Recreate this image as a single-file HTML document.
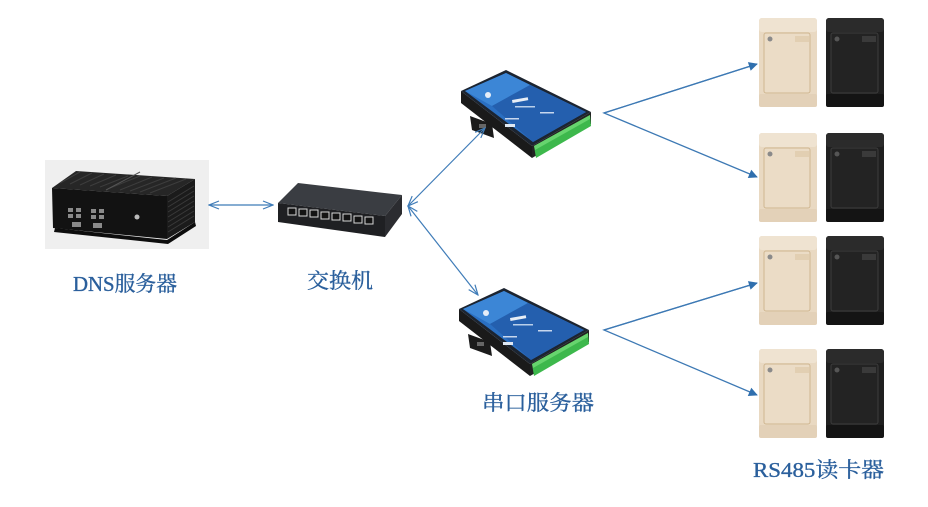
<!DOCTYPE html>
<html><head><meta charset="utf-8"><style>
html,body{margin:0;padding:0;background:#fff;}
svg{display:block;}
text{font-family:"Liberation Serif","Noto Serif CJK SC",serif;fill:#2a5f9c;stroke:#2a5f9c;stroke-width:0.35;font-size:21px;}
</style></head><body>
<svg width="928" height="507" viewBox="0 0 928 507" xmlns="http://www.w3.org/2000/svg">
<defs>
  <marker id="open" viewBox="0 0 12 10" refX="11" refY="5" markerWidth="12" markerHeight="10" markerUnits="userSpaceOnUse" orient="auto-start-reverse">
    <path d="M1,1 L11,5 L1,9" fill="none" stroke="#3f7cb8" stroke-width="1.2"/>
  </marker>
  <marker id="fill" viewBox="0 0 10 10" refX="9" refY="5" markerWidth="10" markerHeight="9" markerUnits="userSpaceOnUse" orient="auto">
    <path d="M0,0 L10,5 L0,10 Z" fill="#2f6fae"/>
  </marker>
  <g id="beige">
    <rect x="0" y="0" width="58" height="89" rx="3" fill="#e9d9c2"/>
    <rect x="0" y="0" width="58" height="14" rx="3" fill="#efe3d1"/>
    <rect x="0" y="76" width="58" height="13" rx="2" fill="#e3d1b8"/>
    <rect x="5" y="15" width="46" height="60" rx="2" fill="#ebdcc6" stroke="#cfb690" stroke-width="1"/>
    <circle cx="11" cy="21" r="2.5" fill="#8a8a8a"/>
    <rect x="36" y="18" width="14" height="6" fill="#e2cfb2"/>
  </g>
  <g id="black">
    <rect x="0" y="0" width="58" height="89" rx="3" fill="#1f1f1f"/>
    <rect x="0" y="0" width="58" height="14" rx="3" fill="#2b2b2b"/>
    <rect x="0" y="76" width="58" height="13" rx="2" fill="#141414"/>
    <rect x="5" y="15" width="47" height="60" rx="2" fill="#232323" stroke="#3c3c3c" stroke-width="1"/>
    <circle cx="11" cy="21" r="2.5" fill="#555"/>
    <rect x="36" y="18" width="14" height="6" fill="#3a3a3a"/>
  </g>
  <g id="serial">
    <polygon points="470,116 492,124 494,138 472,130" fill="#1b1b1b"/>
    <rect x="479" y="124" width="7" height="4" fill="#666"/>
    <polygon points="461,91 532,146 532,158 461,103" fill="#1a1a1a"/>
    <polygon points="532,146 591,112 591,124 532,158" fill="#222"/>
    <polygon points="461,91 506,70 591,112 532,146" fill="#1c2430"/>
    <polygon points="465,91 506,73 586,112 533,142" fill="#2a6fc2"/>
    <polygon points="465,91 506,73 530,85 492,106" fill="#3c86d6"/>
    <polygon points="530,85 586,112 533,142 492,106" fill="#245fae"/>
    <circle cx="488" cy="95" r="3" fill="#e6eef8"/>
    <rect x="512" y="100" width="16" height="3" fill="#e8eef6" transform="rotate(-10 512 100)"/>
    <rect x="515" y="106" width="20" height="1.5" fill="#b9cfea"/>
    <rect x="505" y="118" width="14" height="1.5" fill="#c7d7ee"/>
    <rect x="505" y="124" width="10" height="3" fill="#dfe8f3"/>
    <rect x="540" y="112" width="14" height="1.5" fill="#c7d7ee"/>
    <polygon points="534,146 590,115 591,126 536,158" fill="#3db84c"/>
    <polygon points="534,146 590,115 590,119 535,150" fill="#67d46e"/>
  </g>
</defs>

<rect x="45" y="160" width="164" height="89" fill="#efefef"/>
<polygon points="52,188 76,171 195,179 167,196" fill="#262626"/>
<g stroke="#3d3d3d" stroke-width="1">
  <line x1="60" y1="183" x2="80" y2="172"/><line x1="70" y1="184" x2="92" y2="173"/>
  <line x1="80" y1="185" x2="104" y2="174"/><line x1="90" y1="186" x2="116" y2="175"/>
  <line x1="100" y1="187" x2="128" y2="176"/><line x1="110" y1="188" x2="140" y2="176"/>
  <line x1="120" y1="190" x2="152" y2="177"/><line x1="130" y1="191" x2="164" y2="178"/>
  <line x1="140" y1="192" x2="176" y2="178"/><line x1="150" y1="193" x2="186" y2="179"/>
  <line x1="106" y1="190" x2="140" y2="172" stroke="#555"/>
</g>
<polygon points="52,188 167,196 167,239 53,228" fill="#121212"/>
<polygon points="167,196 195,179 195,222 167,239" fill="#1b1b1b"/>
<g stroke="#3a3a3a" stroke-width="1">
  <line x1="168" y1="202" x2="194" y2="186"/><line x1="168" y1="207" x2="194" y2="191"/>
  <line x1="168" y1="212" x2="194" y2="196"/><line x1="168" y1="217" x2="194" y2="201"/>
  <line x1="168" y1="222" x2="194" y2="206"/><line x1="168" y1="227" x2="194" y2="211"/>
  <line x1="168" y1="232" x2="194" y2="216"/>
</g>
<polygon points="55,228 167,240 195,222 196,226 168,244 54,232" fill="#0d0d0d"/>
<g fill="#8a8a8a">
  <rect x="68" y="208" width="5" height="4"/><rect x="76" y="208" width="5" height="4"/>
  <rect x="91" y="209" width="5" height="4"/><rect x="99" y="209" width="5" height="4"/>
  <rect x="68" y="214" width="5" height="4"/><rect x="76" y="214" width="5" height="4"/>
  <rect x="91" y="215" width="5" height="4"/><rect x="99" y="215" width="5" height="4"/>
  <rect x="72" y="222" width="9" height="5"/><rect x="93" y="223" width="9" height="5"/>
  <circle cx="137" cy="217" r="2.5" fill="#bbb"/>
</g>

<polygon points="278,203 298,183 402,195 385,216" fill="#3a3d42"/>
<polygon points="278,203 385,216 385,237 278,222" fill="#1f2023"/>
<polygon points="385,216 402,195 402,214 385,237" fill="#2b2c30"/>
<g fill="#141414" stroke="#d6d6d6" stroke-width="1">
  <rect x="288" y="208" width="8" height="7"/><rect x="299" y="209" width="8" height="7"/>
  <rect x="310" y="210" width="8" height="7"/><rect x="321" y="212" width="8" height="7"/>
  <rect x="332" y="213" width="8" height="7"/><rect x="343" y="214" width="8" height="7"/>
  <rect x="354" y="216" width="8" height="7"/><rect x="365" y="217" width="8" height="7"/>
</g>

<use href="#serial"/>
<use href="#serial" transform="translate(-2,218)"/>

<use href="#beige" x="759" y="18"/><use href="#black" x="826" y="18"/>
<use href="#beige" x="759" y="133"/><use href="#black" x="826" y="133"/>
<use href="#beige" x="759" y="236"/><use href="#black" x="826" y="236"/>
<use href="#beige" x="759" y="349"/><use href="#black" x="826" y="349"/>

<g stroke="#3f7cb8" stroke-width="1.2" fill="none">
  <line x1="209" y1="205" x2="273" y2="205" marker-start="url(#open)" marker-end="url(#open)"/>
  <line x1="408" y1="206" x2="485" y2="128" marker-start="url(#open)" marker-end="url(#open)"/>
  <line x1="408" y1="206" x2="478" y2="295" marker-start="url(#open)" marker-end="url(#open)"/>
</g>
<g stroke="#3d79b4" stroke-width="1.3" fill="none">
  <polyline points="757,64 604,113 757,177" marker-end="url(#fill)"/>
  <line x1="604" y1="113" x2="757" y2="64" marker-end="url(#fill)"/>
  <polyline points="757,283 604,330 757,395" marker-end="url(#fill)"/>
  <line x1="604" y1="330" x2="757" y2="283" marker-end="url(#fill)"/>
</g>

<text x="73" y="291" textLength="104" lengthAdjust="spacingAndGlyphs">DNS服务器</text>
<text x="307" y="288" textLength="66" lengthAdjust="spacingAndGlyphs">交换机</text>
<text x="482" y="410" textLength="112" lengthAdjust="spacingAndGlyphs">串口服务器</text>
<text x="753" y="477" textLength="131" lengthAdjust="spacingAndGlyphs">RS485读卡器</text>
</svg>
</body></html>
